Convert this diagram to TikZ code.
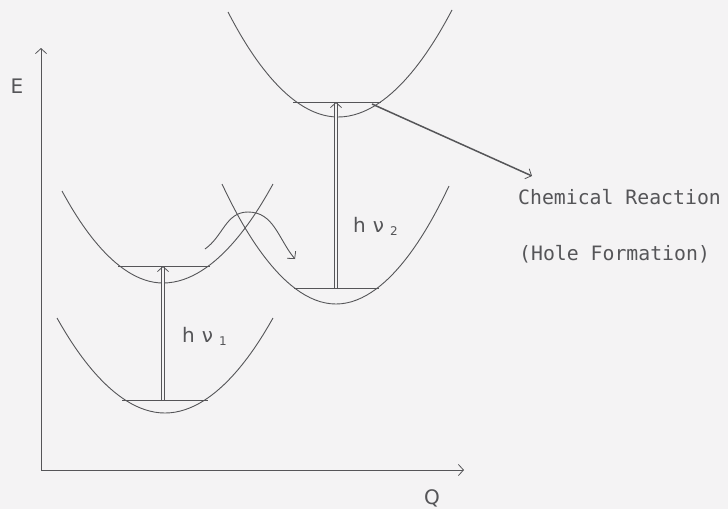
\documentclass[tikz,border=0pt]{standalone}
\usepackage{fontspec}
\setsansfont{DejaVu Sans}
\setmonofont{DejaVu Sans Mono}
\usetikzlibrary{arrows.meta}
\definecolor{paper}{RGB}{244,243,244}
\definecolor{ink}{RGB}{85,85,88}

\begin{document}
\begin{tikzpicture}[x=1pt,y=-1pt,
  >={Straight Barb[length=5pt,width=11pt,line width=0.8pt]},
  curve/.style={draw=ink,line width=0.9pt},
  level/.style={draw=ink,line width=0.9pt},
  photon/.style={draw=ink,line width=0.7pt,double=paper,double distance=2.2pt,->},
  lbl/.style={text=ink,inner sep=0pt,font=\sffamily\fontsize{20}{24}\selectfont},
  note/.style={text=ink,inner sep=0pt,anchor=west,font=\ttfamily\fontsize{19.8}{24}\selectfont}]
\fill[paper] (0,0) rectangle (728,509);
\useasboundingbox (0,0) rectangle (728,509);
% axes
\coordinate (o) at (41,470);
\coordinate (etop) at (41,48);
\coordinate (qend) at (464,470);
\draw[curve,->] (o) -- (etop);
\draw[curve,->] (o) -- (qend);
\node[lbl] (e) at (17,86) {E};
\node[lbl] (q) at (432,498) {Q};
% potential curves
\coordinate (g1) at (165,413);
\coordinate (x1) at (163,283);
\coordinate (g2) at (336,304);
\coordinate (x2) at (338,117);
\draw[curve] (57,318) parabola bend (g1) (273,318);
\draw[curve] (62,191) parabola bend (x1) (273,184);
\draw[curve] (222,184) parabola bend (g2) (449,186);
\draw[curve] (228,12) parabola bend (x2) (452,10);
% vibrational levels
\draw[level] (122,400) coordinate (g1l) -- (208,400) coordinate (g1r);
\draw[level] (118,266) coordinate (x1l) -- (210,266) coordinate (x1r);
\draw[level] (294,288) coordinate (g2l) -- (379,288) coordinate (g2r);
\draw[level] (293,102) coordinate (x2l) -- (381,102) coordinate (x2r);
% excitations
\coordinate (a1) at (163,400);
\coordinate (b1) at (163,266);
\coordinate (a2) at (336,288);
\coordinate (b2) at (336,102);
\draw[photon] (a1) -- (b1);
\draw[photon] (a2) -- (b2);
\node[lbl,anchor=west] (hv1) at (182,336) {h\hspace{7pt}ν\hspace{6pt}\raisebox{-3pt}{\fontsize{12}{12}\selectfont 1}};
\node[lbl,anchor=west] (hv2) at (353,226) {h\hspace{7pt}ν\hspace{6pt}\raisebox{-3pt}{\fontsize{12}{12}\selectfont 2}};
% relaxation
\coordinate (w0) at (205,249);
\coordinate (wt) at (248,212);
\coordinate (w1) at (295,259);
\draw[curve,->] (w0) to[out=35,in=180] (wt) to[out=0,in=130] (w1);
% reaction
\node[note] (chem) at (518,197) {Chemical Reaction};
\node[note] (hole) at (519,254) {(Hole Formation)};
\coordinate (rx) at (532,176);
\draw[curve,line width=1.5pt,->] (372,104) -- (rx);
\end{tikzpicture}
\end{document}
